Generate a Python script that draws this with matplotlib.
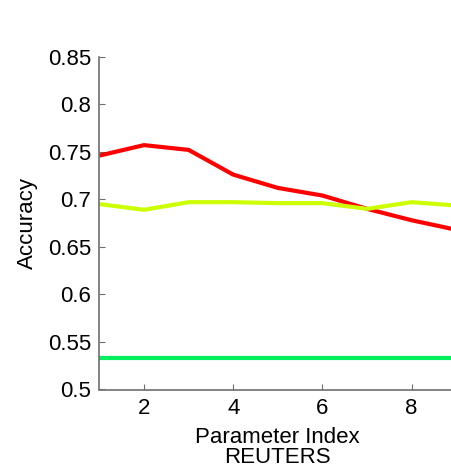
import numpy as np
import matplotlib
matplotlib.use("Agg")
import matplotlib.pyplot as plt

plt.rcParams['font.family'] = ['Liberation Sans', 'DejaVu Sans']

# parameter index on x
param_idx = [1, 2, 3, 4, 5, 6, 7, 8, 9]

# accuracy curves
acc_red = [0.746, 0.757, 0.752, 0.726, 0.712, 0.704, 0.690, 0.678, 0.668]
acc_yellow = [0.695, 0.689, 0.697, 0.697, 0.696, 0.696, 0.690, 0.697, 0.6935]
acc_green = [0.5335] * len(param_idx)

yticks = [0.5, 0.55, 0.6, 0.65, 0.7, 0.75, 0.8, 0.85]
yticklabels = ['0.5', '0.55', '0.6', '0.65', '0.7', '0.75', '0.8', '0.85']
xticks = [2, 4, 6, 8]

fig = plt.figure(figsize=(4.52, 4.70), dpi=100)
# axes runs a little past the right edge, as in the reference
ax = fig.add_axes([99.4/452, 1 - 389.5/470, (456.2 - 99.4)/452, (389.5 - 56.7)/470])

ax.plot(param_idx, acc_red, color='#ff0000', lw=3.0, solid_capstyle='butt')
ax.plot(param_idx, acc_yellow, color='#ccff00', lw=3.0, solid_capstyle='butt')
ax.plot(param_idx, acc_green, color='#00f060', lw=3.0, solid_capstyle='butt')

ax.set_xlim(1, 9)
ax.set_ylim(0.5, 0.85)
ax.set_xticks(xticks)
ax.set_yticks(yticks)
ax.set_yticklabels(yticklabels)

for s in ['top', 'right']:
    ax.spines[s].set_visible(False)
for s in ['left', 'bottom']:
    ax.spines[s].set_color('#6e6e6e')
    ax.spines[s].set_linewidth(1.2)

ax.tick_params(direction='in', length=4, width=0.8, color='#6e6e6e',
               labelsize=16, labelcolor='black', pad=6)

ax.set_xlabel('Parameter Index\nREUTERS', fontsize=16, linespacing=0.92, labelpad=6)
ax.set_ylabel('Accuracy', fontsize=16, labelpad=7)

fig.savefig('out.png', dpi=100)
